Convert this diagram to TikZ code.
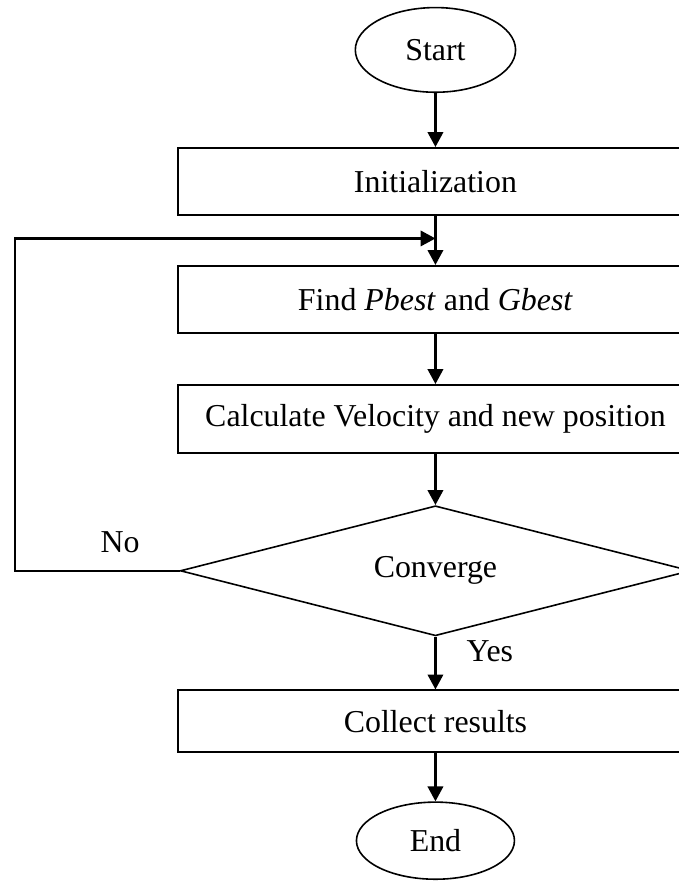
\documentclass[tikz,border=0pt]{standalone}
\usepackage{fontspec}
\setmainfont{Liberation Serif}
\usepackage{tikz}
\usetikzlibrary{shapes.geometric, arrows.meta, positioning, calc}

\begin{document}
\begin{tikzpicture}[
    font=\fontsize{12}{14}\selectfont,
    terminal/.style={ellipse,draw,line width=0.6pt,minimum width=2.12cm,minimum height=1.12cm},
    process/.style={rectangle,draw,line width=0.6pt,minimum width=6.81cm,minimum height=0.89cm},
    decision/.style={diamond,draw,line width=0.6pt,aspect=4,minimum width=6.75cm,minimum height=1.72cm,inner sep=0pt},
    flow/.style={-{Triangle[length=5.6pt,width=5.8pt]},line width=0.9pt}
]
    \useasboundingbox (0,0) rectangle (8.97,-11.68);

    % blocks
    \node[terminal] (start) at (5.76,-0.66) {Start};
    \node[process] (init) at (5.76,-2.40) {Initialization};
    \node[process] (find) at (5.76,-3.96) {Find \textit{Pbest} and \textit{Gbest}};
    \node[process,minimum height=0.9cm] (calc) at (5.76,-5.54) {Calculate Velocity and new position};
    \node[decision] (conv) at (5.76,-7.55) {Converge};
    \node[process,minimum height=0.82cm] (collect) at (5.76,-9.54) {Collect results};
    \node[terminal,minimum width=2.09cm,minimum height=1.02cm] (end) at (5.76,-11.12) {End};

    % labels
    \node (no) at (1.59,-7.17) {No};
    \node (yes) at (6.48,-8.62) {Yes};

    % connectors
    \coordinate (back) at ($(init.south)!0.46!(find.north)$);
    \coordinate (corner) at (0.2,-7.55);
    \draw[flow] (start) -- (init);
    \draw[flow] (init) -- (find);
    \draw[flow] (find) -- (calc);
    \draw[flow] (calc) -- (conv);
    \draw[flow] (conv.west) -- (corner) |- (back);
    \draw[flow] (conv) -- (collect);
    \draw[flow] (collect) -- (end);
\end{tikzpicture}
\end{document}
